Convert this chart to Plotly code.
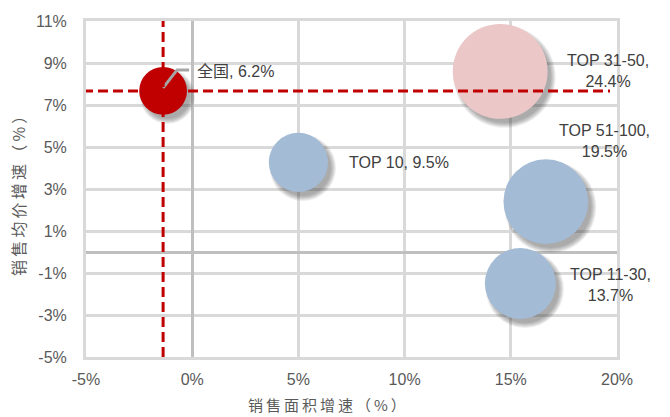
import numpy as np
import plotly.graph_objects as go

# ---- data -------------------------------------------------------------
names = ["全国", "TOP 10", "TOP 31-50", "TOP 51-100", "TOP 11-30"]
area_growth = [-1.37, 5.0, 14.5, 16.65, 15.45]      # 销售面积增速 (%)
price_growth = [7.67, 4.27, 8.6, 2.4, -1.5]         # 销售均价增速 (%)
bubble_value = [6.2, 9.5, 24.4, 19.5, 13.7]         # 气泡大小 (%)
x_ticks = [-5, 0, 5, 10, 15, 20]
y_ticks = [-5, -3, -1, 1, 3, 5, 7, 9, 11]

# ---- style ------------------------------------------------------------
W, H = 670, 417
M = dict(l=86, r=53, t=21, b=60)
X_RANGE = [-5, 20]
Y_RANGE = [-5, 11]
colors = ["#c00000", "#a3bbd5", "#ebc7c7", "#a3bbd5", "#a3bbd5"]
K = 19.2  # px diameter per sqrt(value)
diam = [K * np.sqrt(v) for v in bubble_value]

plot_w = W - M["l"] - M["r"]
plot_h = H - M["t"] - M["b"]
px_x = (X_RANGE[1] - X_RANGE[0]) / plot_w   # data units per pixel
px_y = (Y_RANGE[1] - Y_RANGE[0]) / plot_h

fig = go.Figure()

# soft drop shadows (offset down-right, several translucent layers)
sh_dx, sh_dy = 4.5, 5.5
for k in range(6):
    fig.add_trace(go.Scatter(
        x=[x + sh_dx * px_x for x in area_growth],
        y=[y - sh_dy * px_y for y in price_growth],
        mode="markers",
        marker=dict(size=[d + 7 - 2 * k for d in diam], color="rgba(50,50,50,0.12)",
                    line=dict(width=0)),
        hoverinfo="skip", showlegend=False,
    ))

# bubbles
fig.add_trace(go.Scatter(
    x=area_growth, y=price_growth, mode="markers",
    marker=dict(size=diam, color=colors, opacity=1, line=dict(width=0)),
    text=names, showlegend=False,
))

# national reference lines
nx, ny = area_growth[0], price_growth[0]
dash_style = dict(color="#c00000", width=3, dash="10px,5px")
fig.add_shape(type="line", xref="x", yref="y", x0=nx, x1=nx, y0=Y_RANGE[0], y1=Y_RANGE[1],
              line=dash_style, layer="above")
fig.add_shape(type="line", xref="x", yref="y", x0=X_RANGE[0] - 3 * px_x, x1=X_RANGE[1] - 7 * px_x,
              y0=ny, y1=ny, line=dash_style, layer="above")

# leader line for the national label
fig.add_trace(go.Scatter(
    x=[nx, nx + 14 * px_x, nx + 26 * px_x],
    y=[ny + 3 * px_y, ny + 21 * px_y, ny + 21 * px_y],
    mode="lines", line=dict(color="#a6a6a6", width=3),
    hoverinfo="skip", showlegend=False,
))

# data labels
label_text = ["全国, 6.2%", "TOP 10, 9.5%", "TOP 31-50,<br>24.4%",
              "TOP 51-100,<br>19.5%", "TOP 11-30,<br>13.7%"]
label_shift = [(32, 19, "left"), (49, 0, "left"), (108, 0, "center"),
               (59, 61, "center"), (90, -1, "center")]
for x, y, t, (sx, sy, anc) in zip(area_growth, price_growth, label_text, label_shift):
    fig.add_annotation(x=x, y=y, text=t, showarrow=False, xanchor=anc, yanchor="middle",
                       xshift=sx, yshift=sy, align="center",
                       font=dict(family="Liberation Sans, Noto Sans CJK SC", size=16,
                                 color="#404040"))

# axis titles (thin spaces widen the character spacing)
thin = "\u2009"
x_title = thin.join("销售面积增速（%）")
y_title = thin.join("销售均价增速（%）")
fig.add_annotation(xref="paper", yref="paper", x=(327 - M["l"]) / plot_w,
                   y=(H - M["b"] - 404) / plot_h, text=x_title, showarrow=False,
                   xanchor="center", yanchor="middle",
                   font=dict(family="Noto Sans CJK SC", size=15, color="#595959"))
fig.add_annotation(xref="paper", yref="paper", x=(18 - M["l"]) / plot_w,
                   y=(H - M["b"] - 192) / plot_h, text=y_title, showarrow=False,
                   textangle=-90, xanchor="center", yanchor="middle",
                   font=dict(family="Noto Sans CJK SC", size=16, color="#595959"))

axis_common = dict(
    showgrid=True, gridcolor="#d9d9d9", gridwidth=3,
    zeroline=True, zerolinecolor="#bfbfbf", zerolinewidth=3,
    showline=True, mirror=True, linecolor="#d9d9d9", linewidth=3,
    ticks="outside", tickcolor="rgba(0,0,0,0)",
    tickfont=dict(family="Liberation Sans", size=16, color="#595959"),
    fixedrange=True,
)
fig.update_xaxes(range=X_RANGE, tickvals=x_ticks, ticktext=[f"{v}%" for v in x_ticks],
                 ticklen=6, **axis_common)
fig.update_yaxes(range=Y_RANGE, tickvals=y_ticks, ticktext=[f"{v}%" for v in y_ticks],
                 ticklen=13, **axis_common)

fig.update_layout(
    width=W, height=H, margin=M, autosize=False,
    paper_bgcolor="white", plot_bgcolor="white",
    showlegend=False,
)

fig.write_html("out.html")
